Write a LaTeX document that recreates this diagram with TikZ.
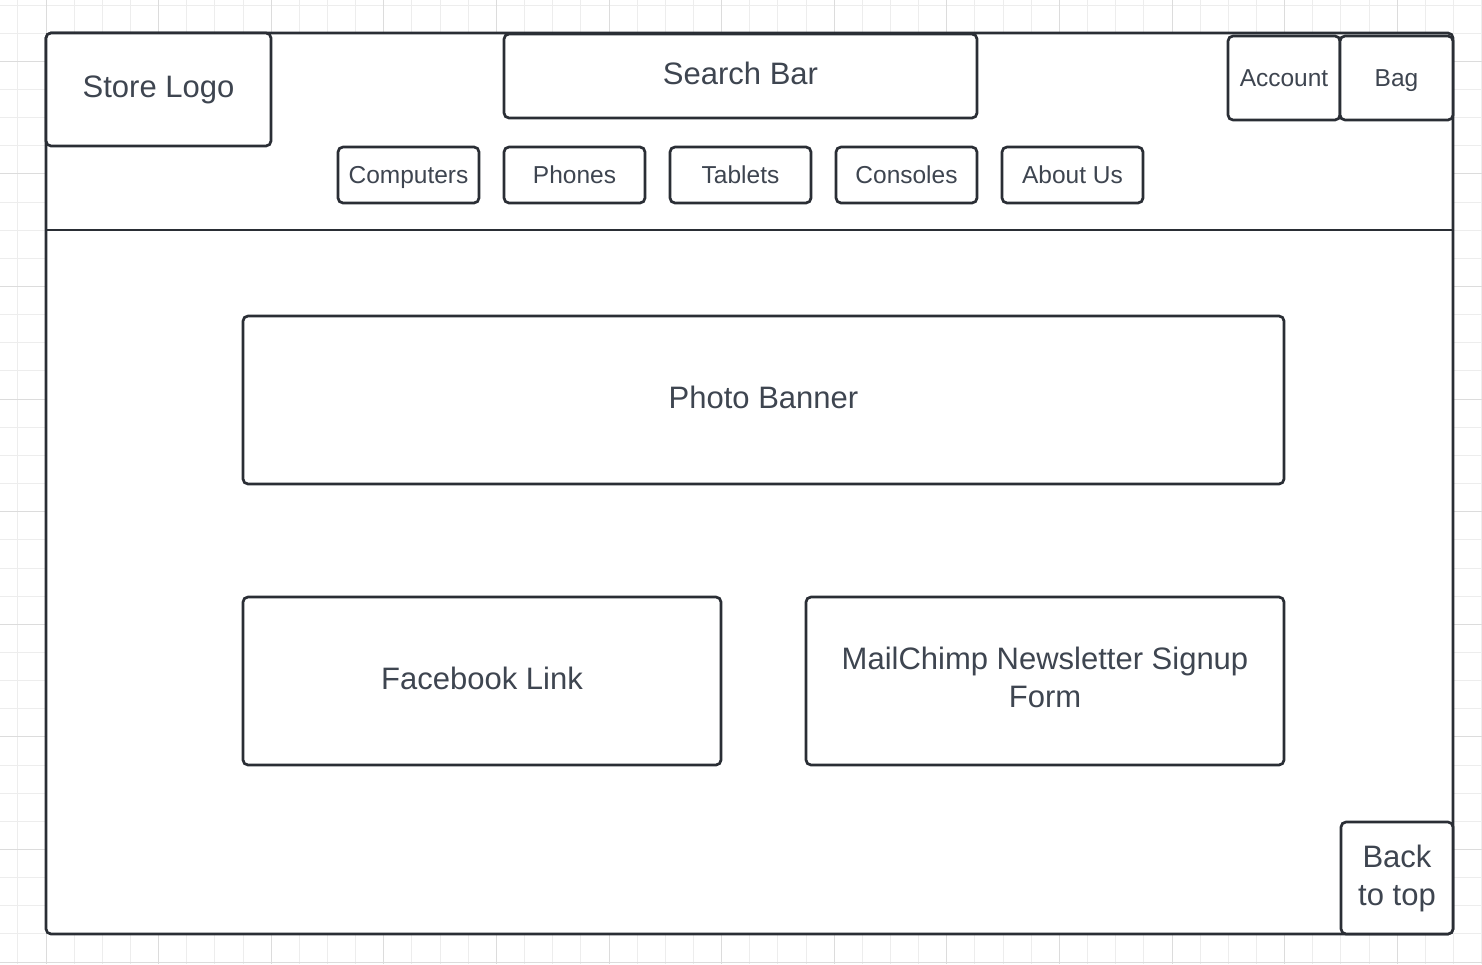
\documentclass[tikz,border=0pt]{standalone}
\usepackage{fontspec}
\setmainfont{Liberation Sans}
\definecolor{gridminor}{HTML}{EDEDED}
\definecolor{gridmajor}{HTML}{DCDCDC}
\definecolor{linec}{HTML}{2A2E35}
\definecolor{textc}{HTML}{3E4550}
\tikzset{
  box/.style={draw=linec, line width=2.7pt, fill=white, rounded corners=5pt,
    inner sep=0pt, text=textc, align=center},
  big/.style={font=\fontsize{31}{38}\selectfont, text height=23.25pt, text depth=7.1pt},
  bigml/.style={font=\fontsize{31}{38}\selectfont},
  small/.style={font=\fontsize{24.5}{30}\selectfont, text height=22pt, text depth=5.4pt},
}
\begin{document}
\begin{tikzpicture}[x=1pt,y=-1pt]
\useasboundingbox (0,0) rectangle (1482,964);
% grid
\foreach \k in {-2,...,51} {
  \pgfmathsetmacro{\gx}{46+28.15*\k}
  \draw[gridminor, line width=1pt] (\gx,0) -- (\gx,964);
}
\foreach \k in {-2,...,33} {
  \pgfmathsetmacro{\gy}{61.3+28.15*\k}
  \draw[gridminor, line width=1pt] (0,\gy) -- (1482,\gy);
}
\foreach \k in {0,...,13} {
  \pgfmathsetmacro{\gx}{46+112.6*\k}
  \draw[gridmajor, line width=1pt] (\gx,0) -- (\gx,964);
}
\foreach \k in {-1,...,8} {
  \pgfmathsetmacro{\gy}{61.3+112.6*\k}
  \draw[gridmajor, line width=1pt] (0,\gy) -- (1482,\gy);
}
% frame
\node[box, minimum width=1407pt, minimum height=901pt] (frame) at (749.5,483.5) {};
\coordinate (hl) at (46,230);
\coordinate (hr) at (1453,230);
\draw[draw=linec, line width=2.7pt] (hl) -- (hr);
% header
\node[box, big, minimum width=225pt, minimum height=113pt] (logo) at (158.5,89.5) {Store Logo};
\node[box, big, minimum width=473pt, minimum height=84pt] (search) at (740.5,76) {Search Bar};
\node[box, small, minimum width=112pt, minimum height=84pt] (account) at (1284,78) {Account};
\node[box, small, minimum width=113pt, minimum height=84pt] (bag) at (1396.5,78) {Bag};
% nav
\node[box, small, minimum width=141pt, minimum height=56pt] (computers) at (408.5,175) {Computers};
\node[box, small, minimum width=141pt, minimum height=56pt] (phones) at (574.5,175) {Phones};
\node[box, small, minimum width=141pt, minimum height=56pt] (tablets) at (740.5,175) {Tablets};
\node[box, small, minimum width=141pt, minimum height=56pt] (consoles) at (906.5,175) {Consoles};
\node[box, small, minimum width=141pt, minimum height=56pt] (about) at (1072.5,175) {About Us};
% body
\node[box, big, minimum width=1041pt, minimum height=168pt] (banner) at (763.5,400) {Photo Banner};
\node[box, big, minimum width=478pt, minimum height=168pt] (fb) at (482,681) {Facebook Link};
\node[box, bigml, minimum width=478pt, minimum height=168pt] (mc) at (1045,681)
  {\begin{tabular}{@{}c@{}}MailChimp Newsletter Signup\\Form\end{tabular}};
\node[box, bigml, minimum width=112pt, minimum height=112pt] (back) at (1397,878) {Back\\to top};
\end{tikzpicture}
\end{document}
